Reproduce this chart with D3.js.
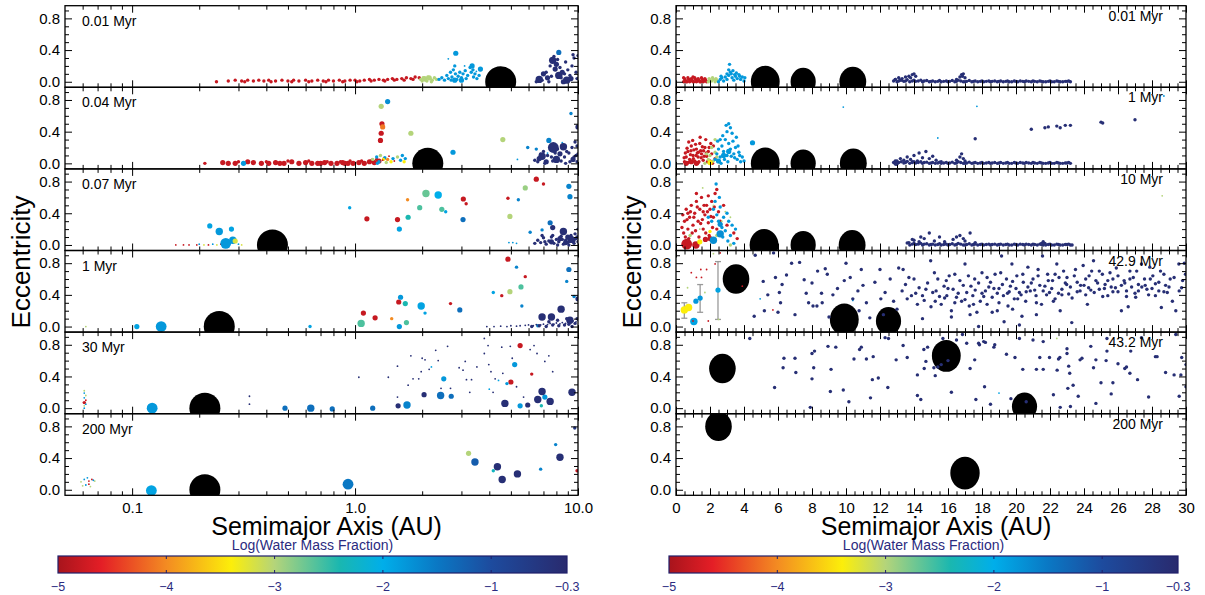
<!DOCTYPE html>
<html>
<head>
<meta charset="utf-8">
<script src="https://cdn.jsdelivr.net/npm/d3@7"></script>
<style>
body { margin: 0; background: #fff; }
text { font-family: "Liberation Sans", Arial, Helvetica, sans-serif; }
</style>
</head>
<body>
<script>
// ---- data ----
var leftTimes = ["0.01 Myr", "0.04 Myr", "0.07 Myr", "1 Myr", "30 Myr", "200 Myr"];
var rightTimes = ["0.01 Myr", "1 Myr", "10 Myr", "42.9 Myr", "43.2 Myr", "200 Myr"];

var waterStops = [-5, -4.6, -4, -3.4, -3, -2.4, -2, -1.5, -1, -0.3];
var waterColors = ["#a8141c", "#e41e26", "#f38b22", "#fcee0a", "#b4d47a", "#1ab7b0", "#00aeea", "#0a78c4", "#1d4b9e", "#292a6e"];
var waterTicks = [-5, -4, -3, -2, -1, -0.3];

var leftTicks = [0.1, 1, 10];
var leftMinor = [0.06, 0.07, 0.08, 0.09, 0.2, 0.3, 0.4, 0.5, 0.6, 0.7, 0.8, 0.9, 2, 3, 4, 5, 6, 7, 8, 9];
var eTicks = [0, 0.4, 0.8];
var eMinor = [0.1, 0.2, 0.3, 0.5, 0.6, 0.7, 0.9];

// giant planets: [a, e, size]
var leftGiants = [[[4.5, 0, 1]], [[2.12, 0, 1]], [[0.426, 0, 1]], [[0.246, 0, 1]], [[0.212, 0, 1]], [[0.212, 0, 1]]];
var rightGiants = [
  [[5.25, 0, 1.03], [7.48, 0, 0.9], [10.4, 0, 0.96]],
  [[5.25, 0, 1.03], [7.48, 0, 0.9], [10.43, 0, 0.96]],
  [[5.18, 0, 1.03], [7.48, 0, 0.9], [10.36, 0, 0.96]],
  [[3.53, 0.6, 0.95], [9.9, 0.09, 1.03], [12.5, 0.07, 0.9]],
  [[2.73, 0.5, 0.95], [15.9, 0.66, 1.03], [20.5, 0.02, 0.9]],
  [[2.5, 0.8, 0.95], [17.0, 0.21, 1.05]]
];

// eccentricity spread bars in the 42.9 Myr panel: [a, eLow, eHigh]
var spreadBars = [[0.49, 0.105, 0.3], [1.42, 0.18, 0.53], [2.47, 0.09, 0.82]];

// bodies: groups of [log water fraction, mass class, [[a, e], ...]]
var left1 = [
  [-4.8, 2, [[0.239,0.0],[0.27,0.01],[0.29,0.02],[0.31,0.01],[0.33,0.02],[0.35,0.01],[0.37,0.02],[0.39,0.01],[0.41,0.02],[0.44,0.01],[0.47,0.02],[0.5,0.01],[0.53,0.02],[0.56,0.01],[0.6,0.02],[0.64,0.01],[0.68,0.02],[0.72,0.01],[0.76,0.02],[0.8,0.01],[0.85,0.02],[0.9,0.01],[0.95,0.02],[1.0,0.02],[1.05,0.01],[1.1,0.02],[1.16,0.03],[1.22,0.02],[1.28,0.03],[1.34,0.02],[1.4,0.03],[1.47,0.04],[1.54,0.03],[1.62,0.04],[1.7,0.05],[1.78,0.04],[1.86,0.06],[1.94,0.05],[0.32,0.0],[0.42,0.0],[0.52,0.0],[0.62,0.0],[0.74,0.0],[0.88,0.0],[1.02,0.0],[1.18,0.01],[1.36,0.01],[1.5,0.02],[1.66,0.02],[1.82,0.03]]],
  [-3.0, 2, [[1.97,0.03],[2.02,0.05],[2.07,0.02],[2.12,0.06],[2.17,0.04],[2.22,0.02],[2.27,0.05],[2.32,0.03],[2.0,0.01],[2.1,0.01],[2.2,0.0]]],
  [-3.0, 3, [[2.05,0.04],[2.15,0.05]]],
  [-1.8, 2, [[2.38,0.03],[2.45,0.05],[2.52,0.02],[2.58,0.08],[2.62,0.04],[2.68,0.12],[2.72,0.06],[2.76,0.15],[2.8,0.2],[2.82,0.1],[2.86,0.03],[2.9,0.07],[3.0,0.05],[3.05,0.1],[3.12,0.14],[3.2,0.08],[3.28,0.18],[3.32,0.12],[3.4,0.06],[3.45,0.1],[3.52,0.04],[3.6,0.08],[2.95,0.12],[3.15,0.04],[2.7,0.02],[3.38,0.15]]],
  [-1.8, 3, [[2.83,0.36],[3.35,0.2],[3.65,0.16],[2.8,0.02],[3.0,0.02]]],
  [-1.8, 1, [[2.62,0.29],[3.1,0.2],[3.5,0.13]]],
  [-0.4, 4, [[6.7,0.03],[7.7,0.27],[8.2,0.08],[8.9,0.02]]],
  [-0.4, 3, [[7.3,0.05],[7.9,0.16],[8.5,0.12],[9.3,0.04],[8.0,0.22],[7.0,0.1],[8.6,0.0]]],
  [-1.4, 3, [[8.2,0.37]]],
  [-0.4, 2, [[6.9,0.02],[7.2,0.12],[7.5,0.2],[7.6,0.07],[7.8,0.32],[8.1,0.28],[8.3,0.18],[8.4,0.05],[8.7,0.1],[8.8,0.25],[9.0,0.15],[9.2,0.08],[9.4,0.2],[9.6,0.3],[9.8,0.12],[9.9,0.04],[9.5,0.34],[10,0.33],[9.1,0.02],[7.4,0.0],[6.5,0.0]]]
];

var left2 = [
  [-4.8, 3, [[0.255,0.01],[0.27,0.0],[0.29,0.0],[0.35,0.01],[0.38,0.0],[0.41,0.0],[0.44,0.01],[0.48,0.0],[0.52,0.02],[0.56,0.0],[0.6,0.01],[0.64,0.0],[0.68,0.0],[0.73,0.01],[0.78,0.0],[0.83,0.0],[0.88,0.01],[0.93,0.0],[0.98,0.0],[1.04,0.01],[1.1,0.0],[1.16,0.02],[1.22,0.01],[1.28,0.03],[1.3,0.29],[1.31,0.38],[1.32,0.5],[0.33,0.02],[0.46,0.0],[0.7,0.0],[0.9,0.0]]],
  [-4.8, 2, [[0.212,0.0],[0.3,0.02],[0.4,0.02],[0.5,0.03],[0.62,0.03],[0.75,0.02],[0.86,0.02],[0.95,0.03],[1.07,0.03],[1.19,0.04],[1.25,0.05],[1.35,0.06]]],
  [-4.1, 3, [[1.33,0.46]]],
  [-1.8, 3, [[0.316,0.0],[2.75,0.14]]],
  [-1.7, 3, [[1.4,0.78]]],
  [-3.0, 3, [[1.31,0.72],[1.78,0.38],[4.6,0.3]]],
  [-3.0, 2, [[1.2,0.05],[1.3,0.1],[1.38,0.01],[1.55,0.08]]],
  [-1.8, 2, [[1.25,0.08],[1.28,0.02],[1.36,0.07],[1.48,0.06],[1.6,0.04],[1.63,0.1],[1.26,0.0],[1.68,0.06]]],
  [-3.4, 2, [[1.45,0.02],[1.66,0.02],[1.34,0.05]]],
  [-4.8, 1, [[1.33,0.04],[1.5,0.03],[1.42,0.09]]],
  [-4.0, 2, [[1.4,0.05]]],
  [-1.8, 1, [[5.35,0.05],[7.3,0.13],[8.5,0.26]]],
  [-0.4, 4, [[6.9,0.09],[8.6,0.21],[8.0,0.05]]],
  [-0.4, 5, [[7.75,0.2]]],
  [-1.6, 3, [[7.4,0.29]]],
  [-1.6, 2, [[5.95,0.2],[6.5,0.18],[9.3,0.63]]],
  [-0.4, 3, [[10,0.46],[7.2,0.02],[8.3,0.12],[9.5,0.05],[6.7,0.06]]],
  [-0.4, 2, [[9.8,0.1],[9.1,0.13],[6.6,0.02],[6.8,0.12],[7.0,0.15],[7.3,0.1],[7.6,0.08],[7.9,0.13],[8.1,0.18],[8.4,0.03],[8.7,0.08],[8.9,0.15],[9.2,0.02],[9.4,0.2],[9.6,0.08],[9.9,0.22],[9.7,0.27],[10,0.12],[7.1,0.0],[8.8,0.0],[9.9,0.02],[6.4,0.04],[7.7,0.03]]]
];

var left3 = [
  [-4.8, 1, [[0.157,0.0],[0.17,0.0],[0.18,0.0],[0.195,0.0],[0.22,0.0],[0.25,0.01]]],
  [-1.8, 1, [[0.2,0.01],[0.23,0.01],[0.27,0.0],[0.3,0.01]]],
  [-3.2, 1, [[0.21,0.0],[0.24,0.0],[0.31,0.0]]],
  [-4.8, 2, [[0.26,0.0]]],
  [-1.9, 3, [[0.223,0.24],[0.279,0.2]]],
  [-1.8, 4, [[0.246,0.17],[0.283,0.06]]],
  [-1.8, 5, [[0.263,0.02]]],
  [-3.2, 3, [[0.29,0.05]]],
  [-1.9, 2, [[0.946,0.47],[2.55,0.42]]],
  [-4.8, 3, [[1.13,0.33],[1.55,0.32],[3.06,0.58],[6.5,0.83]]],
  [-4.8, 2, [[3.15,0.52],[4.85,0.59],[7.0,0.77]]],
  [-1.9, 3, [[1.58,0.2]]],
  [-4.0, 2, [[1.72,0.57]]],
  [-2.4, 3, [[1.73,0.35]]],
  [-2.6, 3, [[1.95,0.47],[2.45,0.45]]],
  [-2.7, 4, [[2.08,0.65]]],
  [-2.0, 4, [[2.36,0.63]]],
  [-1.4, 3, [[3.05,0.32],[7.5,0.28]]],
  [-3.0, 3, [[4.95,0.36]]],
  [-1.6, 2, [[5.4,0.57],[6.9,0.19],[6.1,0.16]]],
  [-2.9, 3, [[5.8,0.72]]],
  [-1.6, 3, [[9.1,0.74],[9.2,0.61]]],
  [-1.8, 1, [[4.9,0.03],[5.1,0.03],[5.3,0.02]]],
  [-0.4, 3, [[7.7,0.22],[7.6,0.04],[8.3,0.08],[8.8,0.03],[9.5,0.06],[9.0,0.1]]],
  [-0.4, 4, [[8.6,0.17],[9.3,0.07]]],
  [-0.4, 2, [[6.4,0.02],[6.6,0.06],[6.8,0.03],[7.0,0.09],[7.2,0.01],[7.4,0.05],[7.6,0.1],[7.8,0.02],[8.0,0.07],[8.2,0.04],[8.4,0.11],[8.6,0.01],[8.8,0.06],[9.0,0.03],[9.2,0.09],[9.4,0.05],[9.6,0.02],[9.8,0.08],[10,0.04],[6.9,0.12],[7.7,0.12],[8.5,0.07],[9.3,0.12],[7.1,0.04],[8.1,0.0],[9.1,0.0],[9.9,0.1],[9.7,0.14],[10,0.2]]]
];

var left4 = [
  [-3.0, 1, [[0.062,0.0]]],
  [-1.9, 3, [[0.105,0.0]]],
  [-1.8, 5, [[0.135,0.0]]],
  [-1.9, 2, [[0.628,0.0],[2.06,0.17],[4.17,0.43]]],
  [-2.6, 4, [[1.065,0.04]]],
  [-4.8, 3, [[1.09,0.17],[1.23,0.11],[1.57,0.31],[4.85,0.85]]],
  [-4.0, 2, [[1.46,0.1]]],
  [-1.8, 3, [[1.6,0.37],[1.58,0.0]]],
  [-2.4, 3, [[1.68,0.29]]],
  [-2.6, 3, [[1.7,0.05],[5.55,0.5]]],
  [-1.9, 4, [[1.98,0.26]]],
  [-4.8, 2, [[2.68,0.29],[4.55,0.39],[5.8,0.63]]],
  [-1.4, 3, [[2.95,0.21],[9.1,0.72]]],
  [-3.0, 3, [[4.95,0.44]]],
  [-1.6, 2, [[5.3,0.75],[5.6,0.26],[6.6,0.01],[8.9,0.57],[9.6,0.38]]],
  [-0.4, 4, [[6.9,0.12],[7.6,0.12],[8.4,0.22],[9.2,0.08]]],
  [-0.4, 3, [[10,0.35]]],
  [-0.4, 1, [[3.9,0.0],[4.2,0.0],[4.5,0.005],[4.8,0.0],[5.0,0.01],[5.3,0.005],[5.5,0.01],[5.8,0.015],[6.0,0.02],[6.3,0.01],[6.5,0.025],[6.8,0.02],[7.0,0.03],[7.3,0.025],[7.5,0.04],[7.8,0.03],[8.0,0.045],[8.3,0.035],[8.5,0.05],[8.8,0.04],[9.0,0.06],[9.3,0.05],[9.5,0.07],[9.8,0.06],[10,0.08]]],
  [-0.4, 2, [[6.2,0.0],[6.7,0.01],[7.2,0.0],[7.7,0.02],[8.2,0.01],[8.7,0.02],[9.1,0.03],[9.4,0.0],[9.7,0.04],[9.9,0.1],[8.1,0.08],[8.9,0.1],[7.4,0.06]]]
];

var left5 = [
  [-3.0, 1, [[0.061,0.22],[0.062,0.16],[0.061,0.03]]],
  [-1.8, 1, [[0.061,0.19],[0.061,0.13],[0.062,0.05],[0.061,0.0]]],
  [-4.8, 1, [[0.062,0.1]]],
  [-4.8, 2, [[0.061,0.07]]],
  [-1.8, 5, [[0.123,0.0]]],
  [-0.4, 1, [[0.336,0.15],[0.336,0.05],[1.04,0.39],[1.41,0.39],[1.55,0.14],[5.7,0.14],[1.78,0.66],[2.0,0.63],[2.06,0.61],[2.3,0.73],[2.6,0.78],[1.55,0.53],[1.73,0.29],[1.82,0.37],[1.98,0.46],[1.93,0.37],[2.15,0.49],[2.36,0.6],[2.43,0.25],[2.68,0.25],[2.93,0.51],[3.05,0.48],[3.12,0.59],[3.16,0.36],[3.27,0.2],[3.33,0.36],[3.52,0.52],[3.8,0.88],[3.8,0.69],[3.95,0.79],[3.98,0.55],[4.07,0.46],[4.16,0.2],[4.25,0.37],[4.6,0.44],[4.55,0.77],[4.97,0.78],[5.07,0.63],[5.3,0.27],[6.1,0.74],[6.35,0.79],[6.55,0.69],[7.1,0.59],[7.4,0.66],[7.7,0.46]]],
  [-1.9, 1, [[2.2,0.52],[4.4,0.35],[4.0,0.24]]],
  [-1.4, 3, [[0.485,0.0],[0.79,-0.01],[1.2,0.0],[2.7,0.15]]],
  [-1.4, 4, [[0.633,0.0],[2.42,0.16]]],
  [-0.4, 3, [[1.56,0.03],[2.04,0.17],[5.95,0.04]]],
  [-1.6, 4, [[1.71,0.04]]],
  [-1.8, 3, [[2.5,0.37],[5.2,0.55],[5.5,0.03],[7.1,0.14]]],
  [-4.8, 3, [[5.5,0.79],[5.0,0.33]]],
  [-4.8, 2, [[6.2,0.43]]],
  [-1.8, 2, [[4.8,0.31]]],
  [-2.4, 2, [[6.85,0.03]]],
  [-0.4, 4, [[4.7,0.06],[6.6,0.11],[6.9,0.21],[7.5,0.085],[9.4,0.2]]]
];

var left6 = [
  [-3.0, 1, [[0.059,0.1],[0.06,0.05],[0.068,0.11],[0.065,0.04]]],
  [-1.8, 1, [[0.061,0.13],[0.062,0.06],[0.063,0.15],[0.067,0.12]]],
  [-4.8, 1, [[0.064,0.11],[0.064,0.07],[0.066,0.13]]],
  [-1.9, 5, [[0.122,-0.01]]],
  [-1.5, 5, [[0.93,0.07]]],
  [-3.0, 3, [[3.23,0.46]]],
  [-1.2, 4, [[3.45,0.35]]],
  [-2.3, 2, [[4.17,0.24]]],
  [-0.4, 4, [[4.35,0.29],[4.57,0.13],[5.35,0.2],[8.3,0.41]]],
  [-1.6, 2, [[6.8,0.26],[7.94,0.57]]],
  [-0.6, 2, [[9.67,0.78]]],
  [-4.8, 2, [[9.9,0.24]]]
];

var bandOuter = [[12.8,0.01],[13.0,0.0],[13.25,0.02],[13.5,0.01],[13.75,0.0],[14.0,0.02],[14.25,0.01],[14.5,0.0],[14.75,0.015],[15.0,0.005],[15.25,0.0],[15.5,0.015],[15.75,0.005],[16.0,0.0],[16.25,0.015],[16.5,0.005],[16.75,0.01],[17.0,0.0],[17.25,0.015],[17.5,0.005],[17.75,0.0],[18.0,0.01],[18.25,0.005],[18.5,0.0],[18.75,0.01],[19.0,0.005],[19.25,0.0],[19.5,0.01],[19.75,0.0],[20.0,0.005],[20.25,0.01],[20.5,0.0],[20.75,0.005],[21.0,0.01],[21.25,0.0],[21.5,0.005],[21.75,0.0],[22.0,0.01],[22.25,0.0],[22.5,0.005],[22.75,0.0],[23.0,0.005],[23.2,0.0],
  [12.9,0.03],[13.1,0.01],[13.4,0.005],[13.6,0.025],[13.9,0.01],[14.1,0.005],[14.4,0.02],[14.6,0.01],[14.9,0.0],[15.1,0.01],[15.4,0.005],[15.6,0.0],[15.9,0.01],[16.1,0.005],[16.4,0.0],[16.6,0.02],[16.9,0.0],[17.1,0.005],[17.4,0.0],[17.6,0.01],[17.9,0.005],[18.1,0.0],[18.4,0.01],[18.6,0.005],[18.9,0.0],[19.1,0.01],[19.4,0.005],[19.6,0.0],[19.9,0.01],[20.1,0.0],[20.4,0.005],[20.6,0.01],[20.9,0.0],[21.1,0.005],[21.4,0.01],[21.6,0.0],[21.9,0.005],[22.1,0.0],[22.4,0.01],[22.6,0.0],[22.9,0.005],[23.1,0.01]];

var right1 = [
  [-4.8, 2, [[0.45,0.0],[0.55,0.02],[0.65,0.0],[0.75,0.03],[0.85,0.01],[0.95,0.02],[1.05,0.0],[1.15,0.03],[1.25,0.01],[1.35,0.02],[1.45,0.0],[1.55,0.03],[1.65,0.01],[1.75,0.02],[0.5,0.04],[0.7,0.05],[0.9,0.04],[1.1,0.05],[1.3,0.04],[1.5,0.05],[1.7,0.04],[0.6,0.0],[0.8,0.0],[1.0,0.0],[1.2,0.0],[1.4,0.0],[1.6,0.0],[1.8,0.0],[0.45,0.05],[1.0,0.06]]],
  [-3.0, 2, [[1.9,0.0],[2.0,0.02],[2.1,0.01],[2.2,0.03],[2.3,0.0],[2.4,0.02],[1.95,0.04],[2.15,0.05],[2.35,0.04]]],
  [-1.8, 2, [[2.5,0.0],[2.6,0.03],[2.7,0.05],[2.8,0.01],[2.9,0.06],[3.0,0.03],[3.1,0.08],[3.15,0.22],[3.1,0.15],[3.2,0.12],[3.25,0.1],[3.3,0.05],[3.4,0.02],[3.5,0.07],[3.6,0.04],[3.7,0.09],[3.8,0.03],[3.9,0.06],[4.0,0.01],[2.65,0.07],[3.0,0.1],[3.35,0.14],[3.55,0.11],[3.75,0.07],[4.05,0.05],[3.45,0.09]]],
  [-0.4, 2, bandOuter],
  [-0.4, 2, [[12.9,0.03],[13.1,0.05],[13.3,0.04],[13.5,0.06],[13.7,0.07],[13.9,0.09],[14.0,0.1],[14.1,0.07],[13.8,0.05],[13.2,0.02],[16.5,0.03],[16.7,0.06],[16.8,0.09],[16.9,0.1],[17.0,0.05],[16.85,0.07]]]
];

var right2 = [
  [-4.8, 2, [[0.5,0.02],[0.6,0.08],[0.7,0.15],[0.8,0.05],[0.9,0.22],[1.0,0.1],[1.1,0.03],[1.2,0.18],[1.3,0.08],[1.4,0.25],[1.5,0.12],[1.6,0.04],[1.7,0.2],[1.8,0.09],[1.9,0.15],[2.0,0.03],[2.1,0.12],[2.2,0.22],[2.3,0.06],[0.55,0.13],[0.65,0.19],[0.75,0.27],[0.85,0.11],[0.95,0.02],[1.05,0.17],[1.15,0.24],[1.25,0.13],[1.35,0.02],[1.45,0.16],[1.55,0.21],[1.65,0.09],[1.75,0.3],[1.85,0.02],[1.95,0.2],[2.05,0.25],[0.48,0.07],[0.72,0.01],[1.02,0.06],[1.32,0.14],[1.62,0.16],[0.88,0.16],[1.18,0.1],[1.48,0.07],[1.78,0.13],[2.15,0.0],[0.62,0.0],[1.28,0.0],[0.98,0.29],[1.42,0.33]]],
  [-4.8, 3, [[0.6,0.0],[0.9,0.02],[1.2,0.0]]],
  [-3.0, 2, [[1.7,0.0],[1.9,0.05],[2.0,0.1],[2.2,0.03],[2.3,0.14],[2.4,0.08],[1.8,0.12],[2.1,0.2],[2.5,0.02],[2.3,0.3]]],
  [-3.4, 3, [[2.0,0.01]]],
  [-1.8, 2, [[2.3,0.05],[2.4,0.12],[2.5,0.18],[2.6,0.08],[2.7,0.22],[2.8,0.15],[2.9,0.3],[3.0,0.1],[3.1,0.25],[3.2,0.18],[3.3,0.38],[3.4,0.12],[3.5,0.2],[3.6,0.05],[3.7,0.14],[3.8,0.02],[3.9,0.08],[2.45,0.28],[2.75,0.35],[2.95,0.48],[3.2,0.45],[3.1,0.5],[3.35,0.28],[3.55,0.33],[2.65,0.0],[3.05,0.02],[3.45,0.07],[2.85,0.05],[3.25,0.09],[3.65,0.22],[3.0,0.4],[2.6,0.3],[3.75,0.1],[4.0,0.03]]],
  [-1.8, 3, [[2.5,0.03],[3.1,0.15],[4.5,0.26],[2.8,0.1]]],
  [-1.8, 1, [[9.84,0.71],[17.7,0.72],[15.4,0.32],[28.7,0.85]]],
  [-0.4, 2, [[17.6,0.31],[20.9,0.43],[21.7,0.45],[21.9,0.46],[22.4,0.47],[22.6,0.45],[22.9,0.48],[23.2,0.48],[25.0,0.52],[25.1,0.51],[27.0,0.55]]],
  [-0.4, 2, bandOuter],
  [-0.4, 2, [[13.0,0.03],[13.2,0.06],[13.4,0.04],[13.6,0.08],[13.8,0.05],[14.0,0.1],[14.3,0.13],[14.5,0.07],[14.7,0.15],[14.9,0.06],[15.1,0.09],[15.3,0.04],[14.2,0.03],[13.9,0.02],[16.5,0.04],[16.7,0.08],[16.8,0.12],[16.9,0.06],[17.0,0.03],[15.6,0.02]]],
  [-0.4, 3, [[12.95,0.0]]]
];

var right3 = [
  [-4.8, 2, [[0.4,0.38],[0.5,0.3],[0.6,0.45],[0.7,0.2],[0.8,0.35],[0.9,0.5],[1.0,0.25],[1.1,0.4],[1.2,0.55],[1.3,0.3],[1.4,0.45],[1.5,0.6],[1.6,0.2],[1.7,0.38],[1.8,0.5],[1.9,0.28],[2.0,0.45],[2.1,0.55],[2.2,0.35],[2.3,0.65],[2.4,0.2],[2.5,0.42],[2.6,0.3],[3.0,0.25],[3.4,0.15],[3.6,0.08],[0.45,0.15],[0.55,0.1],[0.75,0.08],[0.95,0.15],[1.15,0.18],[1.35,0.1],[1.55,0.32],[1.75,0.15],[1.95,0.12],[2.15,0.22],[0.65,0.32],[0.85,0.42],[1.05,0.35],[1.25,0.48],[1.45,0.27],[1.65,0.5],[1.85,0.42],[2.05,0.36],[2.25,0.48],[0.35,0.22],[1.2,0.65],[1.9,0.62],[2.4,0.7],[0.7,0.4],[1.6,0.42],[2.8,0.5]]],
  [-4.8, 5, [[0.63,0.01]]],
  [-4.8, 4, [[1.17,0.0]]],
  [-4.8, 3, [[1.73,0.07],[2.0,0.08]]],
  [-3.0, 1, [[1.57,0.72],[2.2,0.5],[2.9,0.42],[1.4,0.2],[2.7,0.3],[3.2,0.35],[0.8,0.12],[28.6,0.62]]],
  [-3.4, 3, [[1.4,0.04]]],
  [-3.4, 2, [[2.0,0.17]]],
  [-3.0, 2, [[0.83,0.12],[2.4,0.12]]],
  [-1.8, 2, [[2.2,0.45],[2.4,0.38],[2.5,0.3],[2.6,0.48],[2.7,0.22],[2.8,0.35],[2.9,0.18],[3.0,0.4],[3.1,0.3],[3.2,0.12],[3.3,0.25],[3.5,0.2],[2.36,0.77],[2.3,0.55],[2.75,0.1],[3.05,0.05],[3.4,0.02],[2.55,0.6],[1.9,0.35],[2.1,0.3]]],
  [-1.7, 4, [[2.2,0.06],[2.6,0.14]]],
  [-1.7, 3, [[2.6,0.26]]],
  [-3.0, 2, [[3.2,0.0]]],
  [-0.4, 2, bandOuter.filter(function(d) { return d[0] >= 13.6; })],
  [-0.4, 2, [[13.7,0.03],[14.0,0.06],[14.3,0.04],[14.6,0.08],[14.9,0.15],[15.2,0.05],[15.5,0.1],[15.8,0.04],[16.3,0.07],[16.5,0.1],[16.7,0.12],[16.9,0.08],[17.0,0.05],[17.3,0.15],[17.6,0.03],[21.5,0.02],[21.6,0.04],[21.7,0.02],[14.4,0.1],[13.9,0.07],[23.3,0.0]]]
];

var right4 = [
  [-3.4, 4, [[0.49,0.21],[0.74,0.24]]],
  [-1.9, 4, [[1.05,0.063]]],
  [-1.8, 3, [[1.17,0.32],[1.42,0.36]]],
  [-1.9, 3, [[2.47,0.46]]],
  [-4.8, 1, [[0.9,0.68],[1.46,0.72],[1.5,0.62],[1.8,0.72],[2.3,0.79],[2.6,0.93],[1.0,0.07],[1.2,0.62],[1.9,0.07],[5.7,0.21],[3.9,0.51]]],
  [-3.0, 1, [[0.68,0.49],[1.7,0.43],[2.2,0.92],[2.5,0.09]]],
  [-1.8, 1, [[4.95,0.35],[10.4,0.33]]],
  [-0.4, 2, [[4.66,0.9],[5.74,0.93],[4.6,0.13],[5.13,0.57],[5.85,0.62],[6.08,0.43],[6.15,0.3],[6.0,0.18],[6.24,0.53],[6.8,0.8],[7.27,0.81],[7.54,0.59],[7.66,0.42],[8.06,0.26],[8.29,0.26],[8.33,0.7],[8.56,0.42],[8.78,0.73],[8.6,0.3],[8.9,0.66],[9.23,0.4],[9.9,0.58],[10.25,0.62],[10.4,0.35],[10.77,0.2],[10.9,0.72],[10.7,0.45],[11.4,0.11],[11.7,0.56],[12.05,0.35],[12.3,0.43],[12.6,0.6],[12.8,0.32],[13.1,0.74],[13.36,0.72],[13.5,0.53],[13.6,0.35],[13.85,0.39],[14.0,0.6],[14.3,0.49],[14.5,0.39],[14.7,0.47],[14.98,0.83],[15.1,0.43],[15.25,0.32],[15.4,0.6],[15.6,0.28],[15.77,0.51],[15.93,0.39],[16.07,0.64],[16.2,0.2],[16.3,0.47],[16.5,0.37],[16.7,0.58],[16.8,0.32],[17.0,0.79],[17.1,0.43],[17.25,0.26],[17.35,0.51],[17.46,0.39],[17.57,0.6],[17.7,0.18],[17.8,0.0],[17.9,0.32],[18.0,0.68],[18.2,0.45],[18.3,0.28],[18.5,0.56],[18.6,0.37],[18.77,0.66],[18.9,0.2],[19.0,0.48],[19.15,0.89],[19.26,0.39],[19.44,0.6],[19.53,0.26],[19.67,0.51],[19.76,0.79],[19.9,0.35],[20.05,0.64],[20.2,0.43],[20.35,0.13],[20.43,0.56],[20.57,0.32],[20.7,0.75],[20.84,0.45],[21.0,0.6],[21.18,0.39],[21.3,0.64],[21.5,0.28],[21.56,0.89],[21.7,0.51],[21.86,0.66],[21.97,0.43],[22.15,0.58],[22.3,0.35],[22.4,0.79],[22.53,0.62],[22.7,0.47],[22.8,0.7],[22.98,0.53],[23.1,0.41],[23.28,0.05],[23.43,0.64],[23.6,0.56],[23.77,0.45],[23.95,0.77],[24.1,0.6],[24.27,0.49],[24.45,0.7],[24.56,0.83],[24.7,0.58],[24.9,0.47],[25.08,0.66],[25.24,0.53],[25.4,0.39],[25.53,0.68],[25.7,0.6],[25.85,0.49],[26.0,0.64],[26.2,0.2],[26.36,0.58],[26.5,0.45],[26.7,0.7],[26.9,0.62],[27.04,0.37],[27.2,0.53],[27.38,0.79],[27.56,0.6],[27.7,0.47],[27.87,0.75],[28.05,0.64],[28.2,0.39],[28.4,0.56],[28.55,0.24],[28.7,0.66],[28.9,0.43],[29.07,0.6],[29.2,0.32],[29.4,0.2],[29.58,0.79],[29.74,0.49],[29.9,0.8],[29.97,0.66],
    [14.1,0.42],[14.6,0.33],[15.3,0.45],[15.8,0.36],[16.0,0.48],[16.6,0.42],[17.0,0.34],[17.6,0.46],[18.1,0.38],[18.4,0.5],[18.9,0.42],[19.2,0.53],[19.6,0.44],[20.0,0.48],[20.3,0.4],[20.7,0.5],[21.1,0.46],[21.4,0.52],[21.8,0.4],[22.1,0.48],[22.5,0.42],[22.9,0.55],[23.2,0.5],[23.6,0.44],[24.0,0.52],[24.4,0.46],[24.8,0.55],[25.2,0.48],[25.6,0.5],[26.0,0.44],[26.4,0.55],[26.8,0.5],[27.2,0.45],[27.6,0.52],[28.0,0.48],[28.4,0.45],[28.8,0.52],[15.0,0.25],[16.2,0.12],[17.3,0.15],[18.6,0.18],[19.8,0.22],[21.2,0.15],[22.6,0.2],[24.2,0.28],[26.6,0.25],[19.3,0.06],[20.2,0.02],[14.5,0.1],[12.2,0.15],[11.0,0.52],[9.5,0.48],[8.0,0.55],[7.0,0.15],[5.4,0.4],
    [13.3,0.45],[13.7,0.62],[14.2,0.28],[14.8,0.55],[15.2,0.68],[15.5,0.38],[15.9,0.58],[16.4,0.3],[16.4,0.66],[16.9,0.52],[17.2,0.64],[17.5,0.28],[17.8,0.55],[18.0,0.42],[18.3,0.62],[18.7,0.48],[19.0,0.3],[19.1,0.68],[19.5,0.42],[19.8,0.57],[20.1,0.35],[20.4,0.66],[20.6,0.44],[20.9,0.55],[21.2,0.3],[21.3,0.72],[21.6,0.45],[21.9,0.58],[22.2,0.32],[22.3,0.66],[22.7,0.4],[23.0,0.62],[23.3,0.36],[23.5,0.72],[23.8,0.52],[24.1,0.4],[24.3,0.64],[24.6,0.43],[24.9,0.7],[25.1,0.38],[25.4,0.58],[25.7,0.44],[25.9,0.74],[26.2,0.52],[26.5,0.38],[26.7,0.6],[27.0,0.42],[27.1,0.7],[27.4,0.5],[27.8,0.4],[27.9,0.6],[28.2,0.54],[28.5,0.7],[28.7,0.44],[29.0,0.5],[29.3,0.62],[29.6,0.45],[29.8,0.58],[13.0,0.22],[12.0,0.72],[11.2,0.3],[10.0,0.8],[9.0,0.12],[7.8,0.3],[6.5,0.65],[5.2,0.2]]]
];

var right5 = [
  [-0.4, 2, [[4.34,0.88],[5.8,0.26],[6.35,0.63],[6.3,0.51],[7.0,0.63],[7.05,0.45],[7.9,0.01],[8.0,0.37],[8.0,0.69],[8.1,0.51],[8.15,0.72],[8.94,0.78],[9.08,0.21],[9.12,0.49],[9.4,0.77],[9.84,0.23],[10.17,0.08],[10.47,0.62],[10.8,0.74],[10.9,0.77],[11.2,0.62],[11.44,0.13],[11.55,0.36],[11.6,0.65],[11.9,0.38],[12.3,0.89],[12.5,0.88],[12.46,0.26],[12.95,0.61],[13.36,0.79],[13.6,0.64],[14.2,0.16],[14.4,0.11],[14.2,0.42],[14.58,0.74],[14.7,0.59],[14.8,0.77],[15.25,0.41],[15.17,0.51],[15.4,0.52],[15.7,0.88],[16.2,0.2],[16.5,0.86],[16.85,0.93],[17.1,0.82],[17.3,0.5],[17.57,0.61],[17.64,0.11],[17.8,0.82],[17.85,0.8],[18.1,0.84],[18.15,0.27],[18.2,0.83],[18.5,0.05],[18.7,0.77],[18.75,0.8],[19.44,0.68],[19.7,0.12],[19.94,0.64],[20.2,0.88],[20.4,0.49],[20.6,0.08],[21.0,0.86],[21.2,0.49],[21.4,0.64],[21.6,0.84],[21.6,0.49],[21.97,0.64],[22.2,0.17],[22.42,0.48],[22.5,0.62],[22.58,0.64],[22.6,0.01],[23.0,0.75],[23.0,0.69],[23.05,0.25],[23.1,0.53],[23.16,0.44],[23.2,0.02],[23.36,0.29],[23.66,0.15],[23.77,0.61],[23.88,0.63],[24.4,0.78],[24.56,0.51],[24.7,0.61],[24.7,0.06],[25.0,0.32],[25.3,0.6],[25.35,0.88],[25.35,0.72],[25.6,0.18],[25.7,0.32],[26.0,0.56],[26.4,0.5],[26.5,0.52],[26.7,0.44],[26.75,0.72],[27.15,0.36],[27.38,0.89],[27.8,0.14],[28.2,0.65],[28.3,0.65],[28.8,0.45],[29.3,0.42],[29.4,0.93],[29.6,0.15],[29.7,0.42],[29.75,0.64],[30.0,0.55],[30.0,0.27],[14.6,0.5],[15.6,0.55],[16.0,0.6]]],
  [-1.9, 1, [[19.0,0.19]]],
  [-3.0, 1, [[22.4,0.88]]]
];

var right6 = [];

var leftPanels = [left1, left2, left3, left4, left5, left6];
var rightPanels = [right1, right2, right3, right4, right5, right6];

// ---- layout ----
var width = 1205, height = 595;
var panelTop = 5.7, panelH = 81.6;
var eDomain = [-0.07, 0.96];

var svg = d3.select("body").append("svg")
  .attr("width", width)
  .attr("height", height);

var xLeft = d3.scaleLog().domain([0.05, 10]).range([65, 578]);
var xRight = d3.scaleLinear().domain([0, 30]).range([676, 1186]);
var color = d3.scaleLinear().domain(waterStops).range(waterColors).clamp(true);
var radius = d3.scaleOrdinal().domain([1, 2, 3, 4, 5]).range([0.9, 1.7, 2.6, 3.7, 5.4]);

function styleAxis(g) {
  g.select(".domain").remove();
  g.selectAll(".tick line").attr("stroke", "#000").attr("stroke-width", 1);
  g.selectAll(".tick text").attr("font-size", 15).attr("fill", "#000")
    .attr("font-family", "'Liberation Sans', Arial, sans-serif");
}

function drawColumn(x, panels, times, giants, side, majorX, minorX, fmtX) {
  var x0 = x.range()[0], x1 = x.range()[1];
  panels.forEach(function(groups, i) {
    var top = panelTop + i * panelH, bottom = top + panelH;
    var y = d3.scaleLinear().domain(eDomain).range([bottom, top]);
    var id = "clip-" + side + i;
    svg.append("clipPath").attr("id", id)
      .append("rect").attr("x", x0).attr("y", top).attr("width", x1 - x0).attr("height", panelH);

    var g = svg.append("g").attr("clip-path", "url(#" + id + ")");

    // giant planets
    if (side === "L") {
      g.selectAll(".giant").data(giants[i]).enter().append("circle")
        .attr("cx", d => x(d[0])).attr("cy", d => y(d[1]))
        .attr("r", d => 15.5 * d[2]).attr("fill", "#000");
    } else {
      g.selectAll(".giant").data(giants[i]).enter().append("ellipse")
        .attr("cx", d => x(d[0])).attr("cy", d => y(d[1]))
        .attr("rx", d => 14 * d[2]).attr("ry", d => 15.5 * d[2]).attr("fill", "#000");
    }

    // spread bars (42.9 Myr)
    if (side === "R" && i === 3) {
      var bars = g.selectAll(".bar").data(spreadBars).enter().append("g").attr("stroke", "#9a9a9a").attr("stroke-width", 1.3);
      bars.append("line").attr("x1", d => x(d[0])).attr("x2", d => x(d[0])).attr("y1", d => y(d[1])).attr("y2", d => y(d[2]));
      bars.append("line").attr("x1", d => x(d[0]) - 3).attr("x2", d => x(d[0]) + 3).attr("y1", d => y(d[1])).attr("y2", d => y(d[1]));
      bars.append("line").attr("x1", d => x(d[0]) - 3).attr("x2", d => x(d[0]) + 3).attr("y1", d => y(d[2])).attr("y2", d => y(d[2]));
    }

    // bodies
    var rows = [];
    groups.forEach(function(grp) {
      grp[2].forEach(function(p) { rows.push([p[0], p[1], grp[0], grp[1]]); });
    });
    g.selectAll(".body").data(rows).enter().append("circle")
      .attr("cx", d => x(d[0])).attr("cy", d => y(d[1]))
      .attr("r", d => radius(d[3]))
      .attr("fill", d => color(d[2]));

    // frame
    svg.append("rect").attr("x", x0).attr("y", top).attr("width", x1 - x0).attr("height", panelH)
      .attr("fill", "none").attr("stroke", "#000").attr("stroke-width", 1.3);

    // y axes
    svg.append("g").attr("transform", "translate(" + x0 + ",0)")
      .call(d3.axisLeft(y).tickValues(eTicks).tickSize(-7).tickPadding(5).tickFormat(d3.format(".1f")))
      .call(styleAxis);
    svg.append("g").attr("transform", "translate(" + x0 + ",0)")
      .call(d3.axisLeft(y).tickValues(eMinor).tickSize(-4).tickFormat(""))
      .call(styleAxis);
    svg.append("g").attr("transform", "translate(" + x1 + ",0)")
      .call(d3.axisRight(y).tickValues(eTicks).tickSize(-7).tickFormat(""))
      .call(styleAxis);
    svg.append("g").attr("transform", "translate(" + x1 + ",0)")
      .call(d3.axisRight(y).tickValues(eMinor).tickSize(-4).tickFormat(""))
      .call(styleAxis);

    // x axes
    var last = i === panels.length - 1;
    svg.append("g").attr("transform", "translate(0," + bottom + ")")
      .call(d3.axisBottom(x).tickValues(majorX).tickSize(-7).tickPadding(7).tickFormat(last ? fmtX : ""))
      .call(styleAxis);
    svg.append("g").attr("transform", "translate(0," + bottom + ")")
      .call(d3.axisBottom(x).tickValues(minorX).tickSize(-4).tickFormat(""))
      .call(styleAxis);
    svg.append("g").attr("transform", "translate(0," + top + ")")
      .call(d3.axisTop(x).tickValues(majorX).tickSize(-7).tickFormat(""))
      .call(styleAxis);
    svg.append("g").attr("transform", "translate(0," + top + ")")
      .call(d3.axisTop(x).tickValues(minorX).tickSize(-4).tickFormat(""))
      .call(styleAxis);

    // time label
    if (side === "L") {
      svg.append("text").attr("x", 82).attr("y", top + 20).attr("font-size", 14).text(times[i]);
    } else {
      svg.append("text").attr("x", 1163).attr("y", top + 15).attr("font-size", 14)
        .attr("text-anchor", "end").text(times[i]);
    }
  });

  var mid = (x0 + x1) / 2;
  svg.append("text").attr("x", mid + 5).attr("y", 535).attr("font-size", 25)
    .attr("text-anchor", "middle").text("Semimajor Axis (AU)");
  svg.append("text").attr("transform", "translate(" + (x0 - 44) + ",262) rotate(-90)")
    .attr("font-size", 26).attr("text-anchor", "middle").attr("dy", "0.35em").text("Eccentricity");
}

var rightMajor = d3.range(0, 31, 2);
var rightMinor = d3.range(0, 30.01, 0.5).filter(v => v % 2 !== 0);

drawColumn(xLeft, leftPanels, leftTimes, leftGiants, "L", leftTicks, leftMinor, d3.format(".1f"));
drawColumn(xRight, rightPanels, rightTimes, rightGiants, "R", rightMajor, rightMinor, d3.format("d"));

// ---- colour bars ----
var defs = svg.append("defs");
var grad = defs.append("linearGradient").attr("id", "waterGrad").attr("x1", "0%").attr("x2", "100%");
waterStops.forEach(function(w) {
  grad.append("stop").attr("offset", ((w + 5) / 4.7 * 100) + "%").attr("stop-color", color(w));
});

function drawBar(bx0, bx1) {
  var c = d3.scaleLinear().domain([-5, -0.3]).range([bx0, bx1]);
  var by = 556, bh = 17;
  svg.append("text").attr("x", (bx0 + bx1) / 2).attr("y", 550).attr("font-size", 14)
    .attr("text-anchor", "middle").attr("fill", "#2b2b80").text("Log(Water Mass Fraction)");
  svg.append("rect").attr("x", bx0).attr("y", by).attr("width", bx1 - bx0).attr("height", bh)
    .attr("fill", "url(#waterGrad)").attr("stroke", "#1f1f6a").attr("stroke-width", 1.2);
  var inner = waterTicks.slice(1, -1);
  svg.selectAll(null).data(inner).enter().append("line")
    .attr("x1", d => c(d)).attr("x2", d => c(d)).attr("y1", by).attr("y2", by + 3)
    .attr("stroke", "#1f1f6a");
  svg.selectAll(null).data(inner).enter().append("line")
    .attr("x1", d => c(d)).attr("x2", d => c(d)).attr("y1", by + bh - 3).attr("y2", by + bh)
    .attr("stroke", "#1f1f6a");
  svg.selectAll(null).data(waterTicks).enter().append("text")
    .attr("x", d => c(d)).attr("y", 591).attr("font-size", 12.5)
    .attr("text-anchor", "middle").attr("fill", "#2b2b80")
    .text(d => d3.format("")(d));
}
drawBar(58, 567);
drawBar(669, 1178);
</script>
</body>
</html>
